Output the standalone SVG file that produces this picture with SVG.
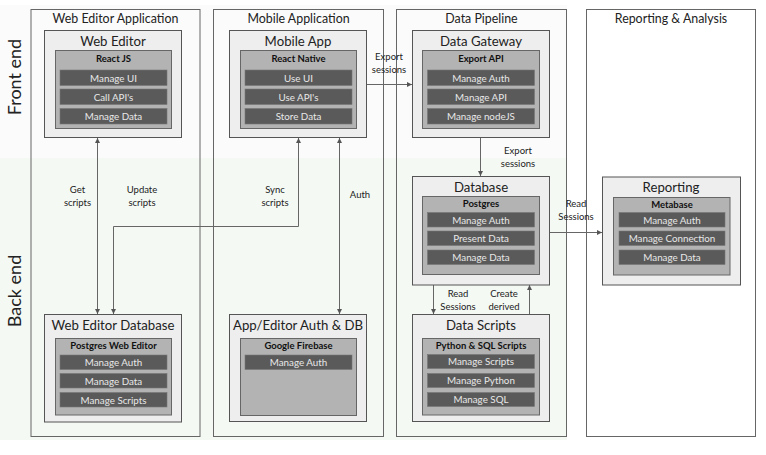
<svg xmlns="http://www.w3.org/2000/svg" width="766" height="455" viewBox="0 0 766 455">
  <defs>
    <style>
      text { font-family: Lato, "Open Sans", "DejaVu Sans", sans-serif; fill: #222; }
      .col { fill: none; stroke: #666; stroke-width: 1; }
      .node { fill: #eeeeee; stroke: #555; stroke-width: 1; }
      .inner { fill: #b3b3b3; stroke: #666; stroke-width: 1; }
      .row { fill: #5a5a5a; stroke: #777; stroke-width: 0.6; }
      .ctitle { font-size: 12.4px; text-anchor: middle; }
      .ntitle { font-size: 13.2px; text-anchor: middle; }
      .ihead { font-size: 9.5px; font-weight: bold; text-anchor: middle; fill: #111; }
      .rtext { font-size: 9.8px; text-anchor: middle; fill: #e8e8e8; }
      .lbl { font-size: 9.5px; text-anchor: middle; fill: #222; }
      .band { font-size: 18px; text-anchor: middle; fill: #222; }
      .wire { fill: none; stroke: #666; stroke-width: 1; }
    </style>
    <marker id="arr" viewBox="0 0 10 10" refX="10" refY="5" markerWidth="5" markerHeight="5" orient="auto-start-reverse" markerUnits="userSpaceOnUse">
      <path d="M0,0 L10,5 L0,10 z" fill="#555"/>
    </marker>
  </defs>

  <!-- background bands -->
  <rect x="0" y="0" width="766" height="455" fill="#ffffff"/>
  <rect x="0" y="5" width="567" height="153" fill="#fbfbfb"/>
  <rect x="0" y="158" width="567" height="282" fill="#f4f9f4"/>
  <text class="band" transform="translate(21,77) rotate(-90)">Front end</text>
  <text class="band" transform="translate(21,291) rotate(-90)">Back end</text>

  <!-- columns -->
  <g id="col-web-editor-application">
    <rect class="col" x="31" y="9.5" width="169" height="427"/>
    <text class="ctitle" x="115.5" y="23">Web Editor Application</text>
  </g>
  <g id="col-mobile-application">
    <rect class="col" x="213.5" y="9.5" width="170" height="427"/>
    <text class="ctitle" x="298.5" y="23">Mobile Application</text>
  </g>
  <g id="col-data-pipeline">
    <rect class="col" x="396.5" y="9.5" width="170" height="427"/>
    <text class="ctitle" x="481.5" y="23">Data Pipeline</text>
  </g>
  <g id="col-reporting-analysis">
    <rect class="col" x="586.5" y="9.5" width="169" height="427"/>
    <text class="ctitle" x="671" y="23">Reporting &amp; Analysis</text>
  </g>

  <!-- connectors -->
  <g id="connectors">
    <path class="wire" d="M97.5,138 V314" marker-start="url(#arr)" marker-end="url(#arr)"/>
    <path class="wire" d="M298.5,138 V226.5 H113.5 V314" marker-start="url(#arr)" marker-end="url(#arr)"/>
    <path class="wire" d="M339.5,138 V314" marker-start="url(#arr)" marker-end="url(#arr)"/>
    <path class="wire" d="M367,84.5 H412" marker-end="url(#arr)"/>
    <path class="wire" d="M480.5,138 V176" marker-end="url(#arr)"/>
    <path class="wire" d="M549.5,232.5 H602" marker-end="url(#arr)"/>
    <path class="wire" d="M433.5,285 V314" marker-end="url(#arr)"/>
    <path class="wire" d="M529.5,314 V285" marker-end="url(#arr)"/>

    <text class="lbl" x="77.5" y="193">Get</text>
    <text class="lbl" x="77.5" y="206">scripts</text>
    <text class="lbl" x="142" y="193">Update</text>
    <text class="lbl" x="142" y="206">scripts</text>
    <text class="lbl" x="275" y="193">Sync</text>
    <text class="lbl" x="275" y="206">scripts</text>
    <text class="lbl" x="360" y="198">Auth</text>
    <text class="lbl" x="389" y="60">Export</text>
    <text class="lbl" x="389" y="73">sessions</text>
    <text class="lbl" x="518" y="154">Export</text>
    <text class="lbl" x="518" y="167">sessions</text>
    <text class="lbl" x="576" y="207">Read</text>
    <text class="lbl" x="576" y="220">Sessions</text>
    <text class="lbl" x="458" y="297">Read</text>
    <text class="lbl" x="458" y="310">Sessions</text>
    <text class="lbl" x="504" y="297">Create</text>
    <text class="lbl" x="504" y="310">derived</text>
  </g>

  <!-- Web Editor -->
  <g id="web-editor">
    <rect class="node" x="44.5" y="30.5" width="137" height="107"/>
    <text class="ntitle" x="113" y="46">Web Editor</text>
    <rect class="inner" x="55.5" y="50.5" width="116" height="78"/>
    <text class="ihead" x="113.5" y="61.5">React JS</text>
    <rect class="row" x="60" y="70" width="107" height="15.5"/>
    <text class="rtext" x="113.5" y="81.5">Manage UI</text>
    <rect class="row" x="60" y="89" width="107" height="15.5"/>
    <text class="rtext" x="113.5" y="100.5">Call API's</text>
    <rect class="row" x="60" y="108.5" width="107" height="15.5"/>
    <text class="rtext" x="113.5" y="120">Manage Data</text>
  </g>

  <!-- Mobile App -->
  <g id="mobile-app">
    <rect class="node" x="229.5" y="30.5" width="137" height="107"/>
    <text class="ntitle" x="298" y="46">Mobile App</text>
    <rect class="inner" x="240.5" y="50.5" width="116" height="78"/>
    <text class="ihead" x="298.5" y="61.5">React Native</text>
    <rect class="row" x="245" y="70" width="107" height="15.5"/>
    <text class="rtext" x="298.5" y="81.5">Use UI</text>
    <rect class="row" x="245" y="89" width="107" height="15.5"/>
    <text class="rtext" x="298.5" y="100.5">Use API's</text>
    <rect class="row" x="245" y="108.5" width="107" height="15.5"/>
    <text class="rtext" x="298.5" y="120">Store Data</text>
  </g>

  <!-- Data Gateway -->
  <g id="data-gateway">
    <rect class="node" x="412.5" y="30.5" width="137" height="107"/>
    <text class="ntitle" x="481" y="46">Data Gateway</text>
    <rect class="inner" x="422.5" y="50.5" width="117" height="78"/>
    <text class="ihead" x="481" y="61.5">Export API</text>
    <rect class="row" x="427.5" y="70" width="107" height="15.5"/>
    <text class="rtext" x="481" y="81.5">Manage Auth</text>
    <rect class="row" x="427.5" y="89" width="107" height="15.5"/>
    <text class="rtext" x="481" y="100.5">Manage API</text>
    <rect class="row" x="427.5" y="108.5" width="107" height="15.5"/>
    <text class="rtext" x="481" y="120">Manage nodeJS</text>
  </g>

  <!-- Database -->
  <g id="database">
    <rect class="node" x="412.5" y="176.5" width="137" height="108.5"/>
    <text class="ntitle" x="481" y="192">Database</text>
    <rect class="inner" x="422.5" y="196.5" width="117" height="78"/>
    <text class="ihead" x="481" y="207">Postgres</text>
    <rect class="row" x="427.5" y="212.5" width="107" height="14.5"/>
    <text class="rtext" x="481" y="223.5">Manage Auth</text>
    <rect class="row" x="427.5" y="231" width="107" height="14.5"/>
    <text class="rtext" x="481" y="242">Present Data</text>
    <rect class="row" x="427.5" y="250" width="107" height="14.5"/>
    <text class="rtext" x="481" y="261">Manage Data</text>
  </g>

  <!-- Reporting -->
  <g id="reporting">
    <rect class="node" x="602.5" y="177" width="138" height="108"/>
    <text class="ntitle" x="671" y="192">Reporting</text>
    <rect class="inner" x="613.5" y="197.5" width="116.5" height="77.5"/>
    <text class="ihead" x="672" y="207.5">Metabase</text>
    <rect class="row" x="619" y="212.5" width="106" height="14.5"/>
    <text class="rtext" x="672" y="223.5">Manage Auth</text>
    <rect class="row" x="619" y="231" width="106" height="14.5"/>
    <text class="rtext" x="672" y="242">Manage Connection</text>
    <rect class="row" x="619" y="250" width="106" height="14.5"/>
    <text class="rtext" x="672" y="261">Manage Data</text>
  </g>

  <!-- Web Editor Database -->
  <g id="web-editor-database">
    <rect class="node" x="44.5" y="314.5" width="137" height="107.5"/>
    <text class="ntitle" x="113" y="330">Web Editor Database</text>
    <rect class="inner" x="55.5" y="338.5" width="116" height="76.5"/>
    <text class="ihead" x="113.5" y="348.5">Postgres Web Editor</text>
    <rect class="row" x="60" y="355" width="107" height="14.5"/>
    <text class="rtext" x="113.5" y="366">Manage Auth</text>
    <rect class="row" x="60" y="373.5" width="107" height="14.5"/>
    <text class="rtext" x="113.5" y="384.5">Manage Data</text>
    <rect class="row" x="60" y="392.5" width="107" height="14.5"/>
    <text class="rtext" x="113.5" y="403.5">Manage Scripts</text>
  </g>

  <!-- App/Editor Auth & DB -->
  <g id="app-editor-auth-db">
    <rect class="node" x="229.5" y="314.5" width="137" height="107"/>
    <text class="ntitle" x="298" y="330">App/Editor Auth &amp; DB</text>
    <rect class="inner" x="240.5" y="338.5" width="116" height="77"/>
    <text class="ihead" x="298.5" y="348.5">Google Firebase</text>
    <rect class="row" x="245" y="355" width="107" height="14.5"/>
    <text class="rtext" x="298.5" y="366">Manage Auth</text>
  </g>

  <!-- Data Scripts -->
  <g id="data-scripts">
    <rect class="node" x="412.5" y="314.5" width="137" height="107"/>
    <text class="ntitle" x="481" y="330">Data Scripts</text>
    <rect class="inner" x="422.5" y="338.5" width="117" height="76.5"/>
    <text class="ihead" x="481" y="348.5">Python &amp; SQL Scripts</text>
    <rect class="row" x="427.5" y="354.5" width="107" height="14"/>
    <text class="rtext" x="481" y="365">Manage Scripts</text>
    <rect class="row" x="427.5" y="373.5" width="107" height="14"/>
    <text class="rtext" x="481" y="384">Manage Python</text>
    <rect class="row" x="427.5" y="392.5" width="107" height="14"/>
    <text class="rtext" x="481" y="403">Manage SQL</text>
  </g>
</svg>
